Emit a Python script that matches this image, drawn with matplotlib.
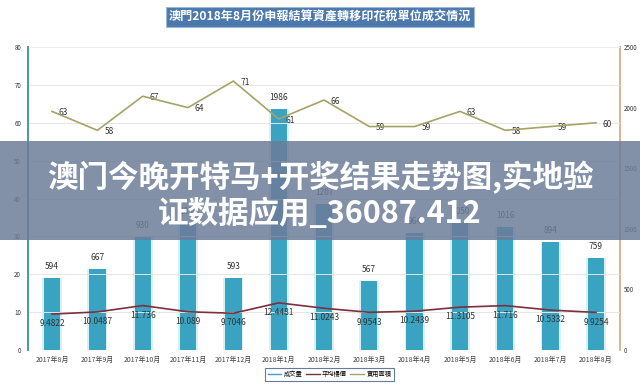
import matplotlib
matplotlib.use("Agg")
import matplotlib.pyplot as plt
from matplotlib.lines import Line2D
import numpy as np

plt.rcParams['font.family'] = ['Noto Sans CJK TC', 'DejaVu Sans']

months = ["2017年8月", "2017年9月", "2017年10月", "2017年11月", "2017年12月",
          "2018年1月", "2018年2月", "2018年3月", "2018年4月", "2018年5月",
          "2018年6月", "2018年7月", "2018年8月"]
volume = [594, 667, 930, 1050, 593, 1986, 1207, 567, 964, 1050, 1016, 894, 759]
avg_price = [9.4822, 10.0487, 11.736, 10.089, 9.7046, 12.4481, 11.0243,
             9.9543, 10.2439, 11.3105, 11.716, 10.5332, 9.9254]
area = [63, 58, 67, 64, 71, 61, 66, 59, 59, 63, 58, 59, 60]
left_ticks = [0, 10, 20, 30, 40, 50, 60, 70, 80]
right_ticks = [0, 500, 1000, 1500, 2000, 2500]
title = "澳門2018年8月份申報結算資產轉移印花稅單位成交情況"
legend_names = ["成交量", "平均樓價", "實用面積"]
banner_lines = ["澳门今晚开特马+开奖结果走势图,实地验", "证数据应用_36087.412"]

bar_color = "#3ba3c2"
price_color = "#7d2f3c"
area_color = "#a3a466"

fig = plt.figure(figsize=(6.4, 3.87), dpi=100)
ax = fig.add_axes([28/640, 1-350/387, 592/640, 303/387])
ax2 = ax.twinx()
ax.set_zorder(ax2.get_zorder() + 1)
ax.patch.set_visible(False)

x = np.arange(len(months))
ax2.bar(x, volume, width=0.44, color="#d6f1f7", zorder=1)
ax2.bar(x, volume, width=0.36, color=bar_color, zorder=2)
ax2.set_ylim(0, 2500)
ax2.set_yticks(right_ticks)
for xi, v in zip(x, volume):
    ax2.annotate(str(v), (xi, v), xytext=(0, 5), textcoords="offset points",
                 ha="center", va="bottom", fontsize=6, color="#333333")

ax.plot(x, area, color=area_color, lw=1.2, zorder=5)
ax.plot(x, avg_price, color=price_color, lw=1.2, zorder=5)
for xi, v in zip(x, area):
    ax.annotate(str(v), (xi, v), xytext=(5, -1), textcoords="offset points",
                ha="left", va="center", fontsize=6, color="#333333")
for xi, v in zip(x, avg_price):
    ax.annotate(f"{v:g}", (xi, v), xytext=(0, -7), textcoords="offset points",
                ha="center", va="center", fontsize=6, color="#333333")

ax.set_xlim(-0.53, len(months) - 0.47)
ax.set_ylim(0, 80)
ax.set_yticks(left_ticks)
ax.set_xticks(x)
ax.set_xticklabels(months, fontsize=5, color="#444444")
ax.tick_params(axis="x", length=0, pad=4)
ax.tick_params(axis="y", length=0, labelsize=4.5, pad=5, labelcolor="#333333")
ax2.tick_params(axis="y", length=0, labelsize=4.5, pad=2.5, labelcolor="#333333")
for t in left_ticks[1:-1]:
    ax.axhline(t, color="#e6e6e6", lw=0.7, zorder=0)
ax.axhline(80, color="#eeeeee", lw=0.7, zorder=0)

for a in (ax, ax2):
    a.spines["top"].set_visible(False)
    a.spines["bottom"].set_visible(False)
ax.spines["right"].set_visible(False)
ax2.spines["left"].set_color("#4a9aa8")
ax2.spines["left"].set_linewidth(1.3)
ax2.spines["right"].set_color("#d8ae86")
ax2.spines["right"].set_linewidth(1.3)
ax.spines["left"].set_color("#4a9aa8")
ax.spines["left"].set_linewidth(1.3)

fig.text(0.5, 1 - 17/387, title, ha="center", va="center", fontsize=8.7,
         color="white", fontweight="bold",
         bbox=dict(boxstyle="square,pad=0.25", facecolor="#4b78ad", edgecolor="#9fb8d6", lw=0.8))

handles = [Line2D([], [], color=bar_color, lw=1),
           Line2D([], [], color=price_color, lw=1),
           Line2D([], [], color=area_color, lw=1)]
leg = fig.legend(handles, legend_names, loc="center", bbox_to_anchor=(0.515, 1 - 374/387),
                 ncol=3, fontsize=4.5, frameon=True, fancybox=False, handlelength=2.2,
                 columnspacing=0.5, handletextpad=0.4, borderpad=0.4)
leg.get_frame().set_edgecolor("#3d5a80")
leg.get_frame().set_linewidth(0.8)

# overlay banner
fig.patches.append(plt.Rectangle((0, 1 - 240/387), 1, 99/387, transform=fig.transFigure,
                                 facecolor="#6c7d99", alpha=0.85, zorder=10))
fig.text(0.5, 1 - 178/387, banner_lines[0], ha="center", va="center", fontsize=22,
         color="white", fontweight="bold", zorder=11,
         family=["Noto Sans CJK SC", "DejaVu Sans"])
fig.text(0.5, 1 - 214/387, banner_lines[1], ha="center", va="center", fontsize=22,
         color="white", fontweight="bold", zorder=11,
         family=["Noto Sans CJK SC", "DejaVu Sans"])

fig.savefig("out.png", dpi=100)
